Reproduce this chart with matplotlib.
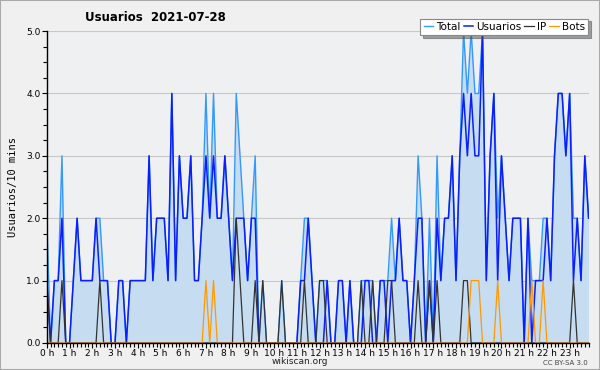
import numpy as np
import matplotlib
matplotlib.use('Agg')
import matplotlib.pyplot as plt
from matplotlib.patches import Rectangle
from matplotlib.ticker import MultipleLocator

# values per 10 minutes, one row of six per hour
usuarios = [
    1, 0, 1, 1, 2, 0,   0, 1, 2, 1, 1, 1,   1, 2, 1, 1, 1, 0,   0, 1, 1, 0, 1, 1,
    1, 1, 1, 3, 1, 2,   2, 2, 1, 4, 1, 3,   2, 2, 3, 1, 1, 2,   3, 2, 3, 2, 2, 3,
    2, 1, 2, 2, 2, 1,   2, 2, 0, 0, 0, 0,   0, 0, 0, 0, 0, 0,   0, 1, 1, 2, 1, 0,
    0, 0, 1, 0, 0, 1,   1, 0, 1, 0, 0, 0,   1, 1, 0, 0, 1, 1,   0, 1, 1, 2, 1, 1,
    0, 1, 2, 2, 0, 1,   0, 2, 1, 2, 2, 3,   1, 3, 4, 3, 4, 3,   3, 5, 1, 3, 4, 1,
    3, 2, 1, 2, 2, 2,   0, 2, 0, 1, 1, 1,   2, 1, 3, 4, 4, 3,   4, 1, 2, 1, 3, 2,
]
ip = [
    1, 0, 0, 0, 1, 0,   0, 0, 0, 0, 0, 0,   0, 0, 1, 0, 0, 0,   0, 0, 0, 0, 0, 0,
    0, 0, 0, 0, 0, 0,   0, 0, 0, 0, 0, 0,   0, 0, 0, 0, 0, 0,   0, 0, 0, 0, 0, 0,
    0, 0, 2, 1, 0, 0,   0, 1, 0, 1, 0, 0,   0, 0, 1, 0, 0, 0,   0, 0, 1, 0, 0, 0,
    1, 1, 0, 0, 0, 0,   0, 0, 0, 0, 0, 1,   0, 0, 1, 0, 0, 0,   1, 1, 0, 0, 0, 0,
    0, 0, 1, 0, 0, 1,   0, 1, 0, 0, 0, 0,   0, 0, 1, 1, 0, 0,   0, 0, 0, 0, 0, 0,
    0, 0, 0, 0, 0, 0,   0, 0, 0, 0, 0, 0,   0, 0, 0, 0, 0, 0,   0, 1, 0, 0, 0, 0,
]
bots = [
    0, 0, 0, 0, 0, 0,   0, 0, 0, 0, 0, 0,   0, 0, 0, 0, 0, 0,   0, 0, 0, 0, 0, 0,
    0, 0, 0, 0, 0, 0,   0, 0, 0, 0, 0, 0,   0, 0, 0, 0, 0, 0,   1, 0, 1, 0, 0, 0,
    0, 0, 0, 0, 0, 0,   0, 0, 0, 0, 0, 0,   0, 0, 0, 0, 0, 0,   0, 0, 0, 0, 0, 0,
    0, 0, 0, 0, 0, 0,   0, 0, 0, 0, 0, 0,   0, 0, 0, 0, 0, 0,   0, 0, 0, 0, 0, 0,
    0, 0, 0, 0, 0, 0,   0, 0, 0, 0, 0, 0,   0, 0, 0, 0, 1, 1,   1, 0, 0, 0, 0, 1,
    0, 0, 0, 0, 0, 0,   0, 0, 1, 0, 0, 1,   0, 0, 0, 0, 0, 0,   0, 0, 0, 0, 0, 0,
]
total = [
    2, 0, 1, 1, 3, 0,   0, 1, 2, 1, 1, 1,   1, 2, 2, 1, 1, 0,   0, 1, 1, 0, 1, 1,
    1, 1, 1, 3, 1, 2,   2, 2, 1, 4, 1, 3,   2, 2, 3, 1, 1, 2,   4, 2, 4, 2, 2, 3,
    2, 1, 4, 3, 2, 1,   2, 3, 0, 1, 0, 0,   0, 0, 1, 0, 0, 0,   0, 1, 2, 2, 1, 0,
    1, 1, 1, 0, 0, 1,   1, 0, 1, 0, 0, 1,   1, 1, 1, 0, 1, 1,   1, 2, 1, 2, 1, 1,
    0, 1, 3, 2, 0, 2,   0, 3, 1, 2, 2, 3,   1, 3, 5, 4, 5, 4,   4, 5, 1, 3, 4, 2,
    3, 2, 1, 2, 2, 2,   0, 2, 1, 1, 1, 2,   2, 1, 3, 4, 4, 3,   4, 2, 2, 1, 3, 2,
]
hours = list(range(24))
hour_labels = [f'{h} h' for h in hours]

x = np.arange(len(total)) / 6.0

fig = plt.figure(figsize=(6, 3.7), dpi=100, facecolor='#f0f0f0')
ax = fig.add_axes([0.078, 0.073, 0.903, 0.843])
ax.set_facecolor('#eef0f2')

ax.fill_between(x, total, 0, color='#c6dcf0', lw=0, zorder=1)
ax.plot(x, total, color='#3399ff', lw=1.0, label='Total', zorder=3)
ax.plot(x, usuarios, color='#0a1eff', lw=1.1, label='Usuarios', zorder=4)
ax.plot(x, ip, color='#333333', lw=0.9, label='IP', zorder=5)
ax.plot(x, bots, color='#ff9900', lw=0.9, label='Bots', zorder=6)

ax.set_xlim(0, x[-1])
ax.set_ylim(0, 5)
ax.yaxis.grid(True, color='#c8c8c8', lw=0.8, zorder=0)
ax.set_axisbelow(True)

for s in ['top', 'right']:
    ax.spines[s].set_visible(False)
for s in ['left', 'bottom']:
    ax.spines[s].set_color('black')
    ax.spines[s].set_linewidth(1.0)
    ax.spines[s].set_zorder(10)

ax.set_yticks([0, 1, 2, 3, 4, 5])
ax.set_yticklabels(['0.0', '1.0', '2.0', '3.0', '4.0', '5.0'])
ax.yaxis.set_minor_locator(MultipleLocator(0.25))
ax.set_xticks(hours)
ax.set_xticklabels(hour_labels)
ax.xaxis.set_minor_locator(MultipleLocator(1 / 6))
ax.tick_params(axis='both', which='major', labelsize=6.5, length=3.5, width=0.8,
               colors='black', pad=1)
ax.tick_params(axis='both', which='minor', length=3, width=0.8)

ax.set_ylabel('Usuarios/10 mins', family='DejaVu Sans Mono', fontsize=7.5, labelpad=6)

fig.text(0.142, 0.952, 'Usuarios  2021-07-28', fontsize=8.5, fontweight='bold',
         ha='left', va='center')
fig.text(0.5, 0.022, 'wikiscan.org', fontsize=6.5, ha='center', va='center', color='#222222')
fig.text(0.98, 0.018, 'CC BY-SA 3.0', fontsize=5, ha='right', va='center', color='#444444')

leg = fig.legend(loc='upper right', bbox_to_anchor=(0.98, 0.95), ncol=4, fontsize=7.5,
                 frameon=True, fancybox=False, shadow=True, handlelength=0.9,
                 handletextpad=0.3, columnspacing=0.3, borderpad=0.3,
                 borderaxespad=0)
leg.get_frame().set_edgecolor('#888888')
leg.get_frame().set_linewidth(0.8)
leg.get_frame().set_facecolor('white')

fig.patches.append(Rectangle((0, 0), 1, 1, transform=fig.transFigure, fill=False,
                             edgecolor='#aaaaaa', lw=1.5))

fig.savefig('out.png', dpi=100, facecolor=fig.get_facecolor())
